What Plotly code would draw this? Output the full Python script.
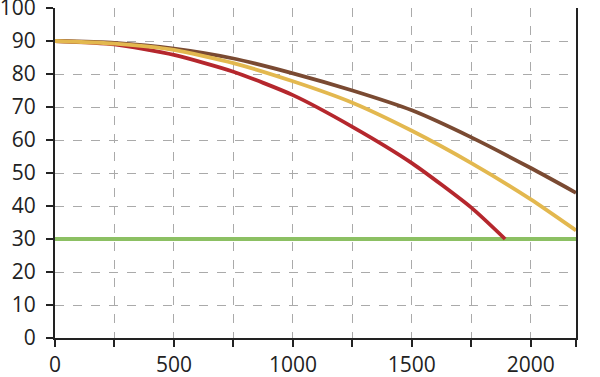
import plotly.graph_objects as go

x_red = [0, 250, 500, 750, 1000, 1250, 1500, 1750, 1892]
y_red = [90, 89, 85.8, 80.7, 73.6, 64, 53, 39.5, 30]

x_yellow = [0, 250, 500, 750, 1000, 1250, 1500, 1750, 2000, 2190]
y_yellow = [90, 89.2, 87.3, 83.3, 77.8, 71.3, 62.8, 53, 42, 32.6]

x_brown = [0, 250, 500, 750, 1000, 1250, 1500, 1750, 2000, 2190]
y_brown = [90, 89.4, 87.7, 84.7, 80.2, 75, 69, 60.8, 51.5, 44]

x_green = [0, 2190]
y_green = [30, 30]

x_tickvals = [0, 250, 500, 750, 1000, 1250, 1500, 1750, 2000, 2190]
x_ticktext = ["0", "", "500", "", "1000", "", "1500", "", "2000", ""]
y_tickvals = list(range(0, 101, 10))

fig = go.Figure()
fig.add_trace(go.Scatter(x=x_green, y=y_green, mode="lines",
                         line=dict(color="#8cc063", width=3.8)))
for xs, ys, c in [(x_red, y_red, "#b5272d"),
                  (x_brown, y_brown, "#7a4a32"),
                  (x_yellow, y_yellow, "#e3b84f")]:
    fig.add_trace(go.Scatter(x=xs, y=ys, mode="lines",
                             line=dict(color=c, width=3.8, shape="spline", smoothing=0.6)))

font = dict(family="Open Sans", size=21, color="#222222")
fig.update_layout(
    width=600, height=377,
    margin=dict(l=55, r=24, t=8, b=39),
    paper_bgcolor="white", plot_bgcolor="white",
    showlegend=False,
    font=font,
)
fig.update_xaxes(
    range=[0, 2190], tickvals=x_tickvals, ticktext=x_ticktext,
    showgrid=True, gridcolor="#aaaaaa", griddash="dash", gridwidth=1,
    showline=True, linecolor="#222222", linewidth=2,
    ticks="outside", ticklen=7, tickwidth=2, tickcolor="#222222",
    zeroline=False, tickfont=font, automargin=False, ticklabeloverflow="allow",
)
fig.update_yaxes(
    range=[0, 100], tickvals=y_tickvals,
    showgrid=True, gridcolor="#aaaaaa", griddash="dash", gridwidth=1,
    showline=True, linecolor="#222222", linewidth=2, mirror=True,
    ticks="outside", ticklen=7, tickwidth=2, tickcolor="#222222",
    zeroline=False, tickfont=font, automargin=False, ticklabelstandoff=6,
    ticklabeloverflow="allow",
)
fig.write_html("out.html", config={"displayModeBar": False},
               post_script="document.body.style.margin='0';document.body.style.overflow='hidden';")
